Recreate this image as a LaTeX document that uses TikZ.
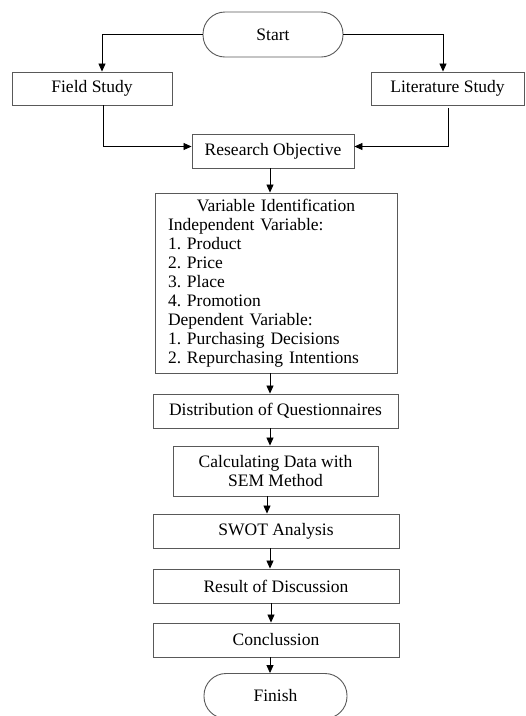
\documentclass[tikz,border=0pt]{standalone}
\usepackage{fontspec}
\setmainfont{Liberation Serif}
\usetikzlibrary{arrows.meta}
\frenchspacing
\begin{document}
\begin{tikzpicture}[x=1pt,y=-1pt,
  box/.style={draw=black!65, line width=0.9pt, inner sep=0pt, align=center,
    font=\fontsize{17.5}{19}\selectfont},
  term/.style={box, rounded corners=22pt},
  arr/.style={draw=black, line width=0.8pt, -{Triangle[length=8pt,width=7pt]}},
  ln/.style={draw=black, line width=0.8pt}]
\useasboundingbox (0,0) rectangle (526,716);
\node[term, minimum width=140pt, minimum height=45pt] (start) at (273,34.5) {Start};
\node[box, minimum width=160pt, minimum height=33pt] (field) at (92,88.5) {Field Study};
\node[box, minimum width=153pt, minimum height=33pt] (lit) at (447.5,88.5) {Literature Study};
\node[box, minimum width=162pt, minimum height=34pt] (research) at (273,151) {Research Objective};
\node[box, minimum width=242pt, minimum height=180pt, text width=216pt, align=left] (var) at (276,283)
  {\makebox[\linewidth][c]{Variable Identification}\\
   Independent Variable:\\
   1. Product\\
   2. Price\\
   3. Place\\
   4. Promotion\\
   Dependent Variable:\\
   1. Purchasing Decisions\\
   2. Repurchasing Intentions};
\node[box, minimum width=245pt, minimum height=34pt] (dist) at (275.5,411) {Distribution of Questionnaires};
\node[box, minimum width=205pt, minimum height=50pt] (calc) at (275.5,471) {Calculating Data with\\SEM Method};
\node[box, minimum width=246pt, minimum height=34pt] (swot) at (276,531) {SWOT Analysis};
\node[box, minimum width=246pt, minimum height=34pt] (result) at (276,586) {Result of Discussion};
\node[box, minimum width=246pt, minimum height=34pt] (concl) at (276,640) {Conclussion};
\node[term, minimum width=143pt, minimum height=45pt] (finish) at (275.5,696) {Finish};

\draw[arr] (start.west) -| ([xshift=10pt]field.north);
\draw[arr] (start.east) -| ([xshift=-4.5pt]lit.north);
\draw[arr] ([xshift=11pt]field.south) |- ([yshift=4.5pt]research.west);
\draw[arr] ([xshift=0.5pt,yshift=-3pt]lit.south) |- ([yshift=4.5pt]research.east);
\draw[arr] ([xshift=-3pt]research.south) -- ([xshift=-3pt]research.south |- var.north);
\draw[arr] ([xshift=-6pt]var.south) -- ([xshift=-6pt]var.south |- dist.north);
\draw[arr] ([xshift=-5.5pt]dist.south) -- ([xshift=-5.5pt]dist.south |- calc.north);
\draw[arr] ([xshift=-8.5pt]calc.south) -- ([xshift=-8.5pt]calc.south |- swot.north);
\draw[arr] ([xshift=-6pt]swot.south) -- ([xshift=-6pt]swot.south |- result.north);
\draw[arr] ([xshift=-5pt]result.south) -- ([xshift=-5pt]result.south |- concl.north);
\draw[arr] ([xshift=-6pt]concl.south) -- ([xshift=-6pt]concl.south |- finish.north);
\end{tikzpicture}
\end{document}
